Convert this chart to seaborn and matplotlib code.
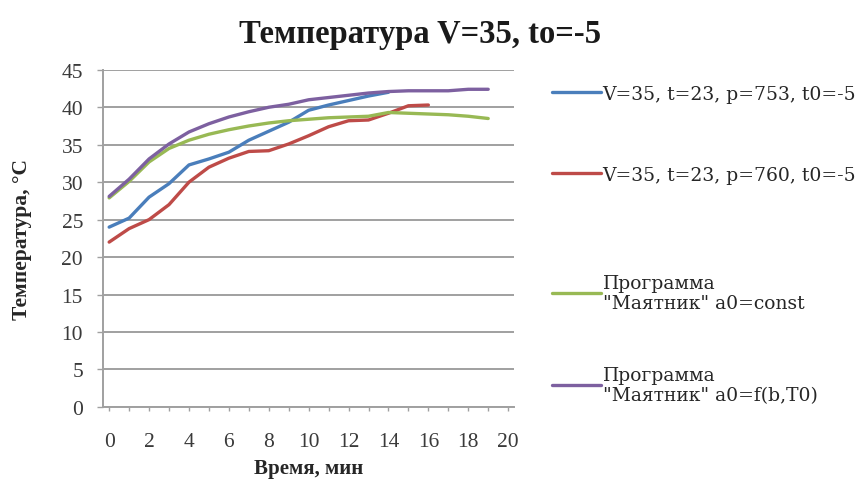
import matplotlib
matplotlib.use("Agg")
import matplotlib.pyplot as plt
import seaborn as sns
import pandas as pd
from matplotlib.lines import Line2D
from matplotlib.ticker import MultipleLocator

# ---- data ----
time_blue = list(range(0, 15))
temp_blue = [24.0, 25.2, 28.0, 29.8, 32.3, 33.1, 34.0, 35.6, 36.8, 38.0, 39.6, 40.3, 40.9, 41.5, 42.0]

time_red = list(range(0, 17))
temp_red = [22.0, 23.8, 25.0, 27.0, 30.0, 32.0, 33.2, 34.1, 34.2, 35.1, 36.2, 37.4, 38.2, 38.3, 39.2, 40.2, 40.3]

time_green = list(range(0, 20))
temp_green = [27.9, 30.1, 32.7, 34.5, 35.6, 36.4, 37.0, 37.5, 37.9, 38.2, 38.4, 38.6, 38.7, 38.8, 39.3, 39.2, 39.1, 39.0, 38.8, 38.5]

time_purple = list(range(0, 20))
temp_purple = [28.1, 30.4, 33.1, 35.1, 36.7, 37.8, 38.7, 39.4, 40.0, 40.4, 41.0, 41.3, 41.6, 41.9, 42.1, 42.2, 42.2, 42.2, 42.4, 42.4]

labels = ["V=35, t=23, p=753, t0=-5",
          "V=35, t=23, p=760, t0=-5",
          "Программа\n\"Маятник\" a0=const",
          "Программа\n\"Маятник\" a0=f(b,T0)"]
colors = ["#4a7ebb", "#be4b48", "#98b954", "#7d60a0"]

x_ticks = list(range(0, 21, 2))
y_ticks = list(range(0, 46, 5))

title = "Температура V=35, to=-5"
xlabel = "Время, мин"
ylabel = "Температура, °С"

# ---- long-form table ----
frames = []
for lab, t, v in zip(labels,
                     [time_blue, time_red, time_green, time_purple],
                     [temp_blue, temp_red, temp_green, temp_purple]):
    frames.append(pd.DataFrame({"t": t, "T": v, "series": lab}))
df = pd.concat(frames, ignore_index=True)

sns.set_theme(style="white")
plt.rcParams['font.family'] = ['Liberation Serif', 'DejaVu Serif']

fig = plt.figure(figsize=(8.67, 4.85), dpi=100)
ax = fig.add_axes([0.119, 0.159, 0.474, 0.695])

sns.lineplot(data=df, x="t", y="T", hue="series", hue_order=labels,
             palette=dict(zip(labels, colors)), linewidth=2.4, ax=ax,
             legend=False, estimator=None, sort=False)

ax.set_xlim(-0.3, 20.3)
ax.set_ylim(0, 45)
ax.set_xticks(x_ticks)
ax.xaxis.set_minor_locator(MultipleLocator(1))
ax.set_yticks(y_ticks)
ax.yaxis.grid(True, color="#a0a0a0", linewidth=1.4)
ax.set_axisbelow(True)
for s in ["top", "right"]:
    ax.spines[s].set_visible(False)
for s in ["left", "bottom"]:
    ax.spines[s].set_color("#a0a0a0")
    ax.spines[s].set_linewidth(1.4)
ax.tick_params(axis="both", which="both", direction="out", color="#a0a0a0",
               length=3, width=1, labelsize=15.5, labelcolor="#3a3a3a")
ax.tick_params(axis="x", which="both", bottom=True, pad=15)
ax.tick_params(axis="y", left=True, length=4.5, pad=10)

ax.set_xlabel(xlabel, fontsize=15, fontweight="bold", color="#262626")
ax.set_ylabel(ylabel, fontsize=15.5, fontweight="bold", color="#262626")
ax.xaxis.set_label_coords(0.5, -0.152)
ax.yaxis.set_label_coords(-0.172, 0.5)

fig.suptitle(title, x=0.485, y=0.96, fontsize=23.5, fontweight="bold", color="#1a1a1a")

# legend entries (one per entry to mimic wide Excel spacing)
centers_px = [95, 176, 294, 386]
for lab, col, cy in zip(labels, colors, centers_px):
    h = Line2D([], [], color=col, linewidth=2.4)
    fig.legend([h], [lab], loc="center left",
               bbox_to_anchor=(552 / 867, 1 - cy / 485),
               frameon=False, handlelength=2.6,
               handletextpad=0.1, borderpad=0, borderaxespad=0,
               labelcolor="#262626",
               prop={"family": ["DejaVu Serif"], "size": 13.5})

fig.savefig("out.png", dpi=100)
